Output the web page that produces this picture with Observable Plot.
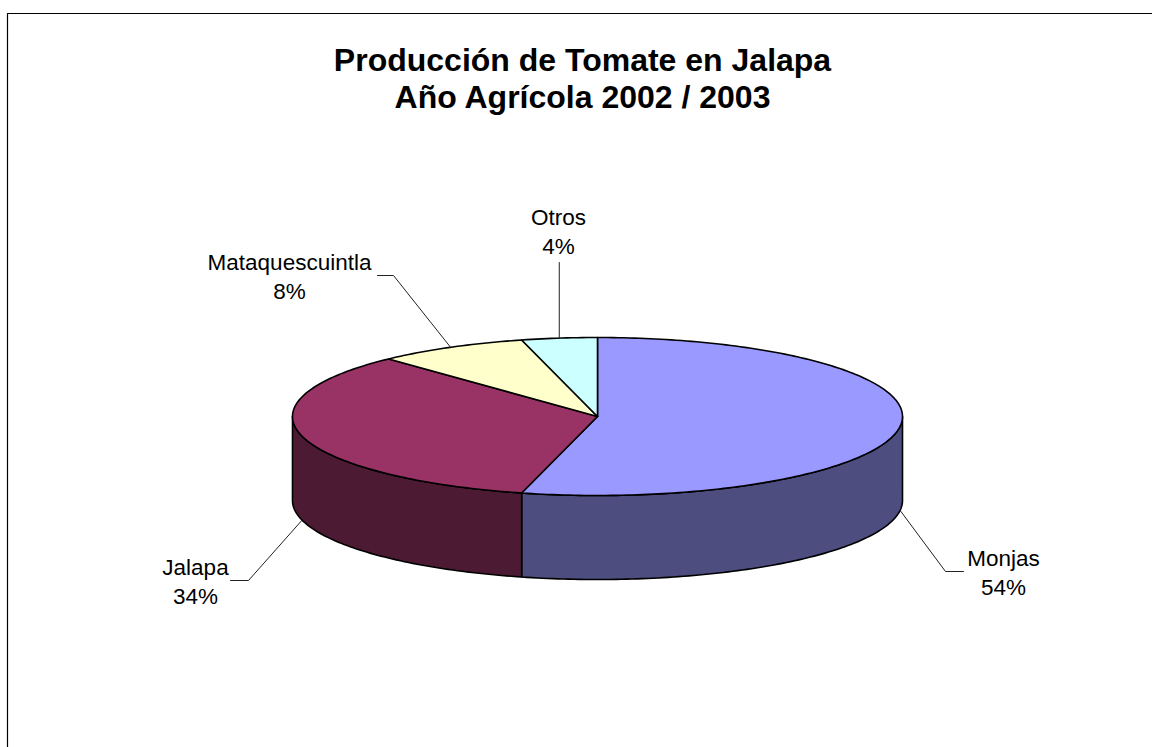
<!DOCTYPE html>
<html>
<head>
<meta charset="utf-8">
<script src="https://cdn.jsdelivr.net/npm/d3@7"></script>
<script src="https://cdn.jsdelivr.net/npm/@observablehq/plot@0.6"></script>
<style>
  html, body { margin: 0; padding: 0; background: #fff; }
  #chart svg { display: block; }
</style>
</head>
<body>
<div id="chart"></div>
<script>
// ---- data ----
const categories = ["Monjas", "Jalapa", "Mataquescuintla", "Otros"];
const values = [54, 34, 8, 4];
const pctLabels = ["54%", "34%", "8%", "4%"];
const titleLines = ["Producción de Tomate en Jalapa", "Año Agrícola 2002 / 2003"];

// ---- styles / layout ----
const topColors = ["#9999FF", "#993366", "#FFFFCC", "#CCFFFF"];
const sideColors = ["#4D4D80", "#4D1A33", "#80805F", "#668080"];
const W = 1152, H = 747;
const pie = {cx: 597, cy: 416, rx: 305, ry: 79, depth: 84};
// label block centres and leader end / elbow (layout only)
const labelLayout = [
  {lx: 1003, ly: 571, elbowX: 945, endX: 963},
  {lx: 195, ly: 580, elbowX: 248, endX: 230},
  {lx: 289, ly: 275, elbowX: 393, endX: 377},
  {lx: 558, ly: 230, elbowX: null, endX: null, endY: 262}
];

const rad = d => d * Math.PI / 180;
function pt(a, dz = 0) {
  return {x: pie.cx + pie.rx * Math.sin(rad(a)), y: pie.cy - pie.ry * Math.cos(rad(a)) + dz};
}
function arc(a0, a1, dz) {
  const pts = [];
  const n = Math.max(2, Math.ceil(Math.abs(a1 - a0) / 1));
  for (let i = 0; i <= n; i++) pts.push(pt(a0 + (a1 - a0) * i / n, dz));
  return pts;
}

const total = d3.sum(values);
let acc = 0;
const slices = categories.map((c, i) => {
  const a0 = acc / total * 360;
  acc += values[i];
  const a1 = acc / total * 360;
  return {c, i, a0, a1, mid: (a0 + a1) / 2};
});

const marks = [];
// outer frame (top / left edges visible)
marks.push(Plot.line([{x: 7, y: H + 10}, {x: 7, y: 13}, {x: W + 10, y: 13}], {x: "x", y: "y", stroke: "#000", strokeWidth: 1.2}));

// side walls (front half only)
for (const s of slices) {
  const lo = Math.max(s.a0, 90), hi = Math.min(s.a1, 270);
  if (hi > lo) {
    const poly = [...arc(lo, hi, 0), ...arc(hi, lo, pie.depth)];
    poly.push(poly[0]);
    marks.push(Plot.line(poly, {x: "x", y: "y", fill: sideColors[s.i], stroke: "#000", strokeWidth: 1.6, strokeLinejoin: "round"}));
  }
}
// top faces
for (const s of slices) {
  const c = {x: pie.cx, y: pie.cy};
  const poly = [c, ...arc(s.a0, s.a1, 0), c];
  marks.push(Plot.line(poly, {x: "x", y: "y", fill: topColors[s.i], stroke: "#000", strokeWidth: 1.6, strokeLinejoin: "round"}));
}
// leader lines + labels
slices.forEach((s, i) => {
  const front = Math.cos(rad(s.mid)) < 0;
  const a = pt(s.mid, front ? pie.depth : 0);
  const L = labelLayout[i];
  let path;
  if (L.elbowX == null) path = [a, {x: a.x, y: L.endY}];
  else path = [a, {x: L.elbowX, y: L.ly}, {x: L.endX, y: L.ly}];
  marks.push(Plot.line(path, {x: "x", y: "y", stroke: "#222", strokeWidth: 1}));
});
marks.push(Plot.text(slices, {
  x: (d) => labelLayout[d.i].lx, y: (d) => labelLayout[d.i].ly,
  text: (d) => categories[d.i] + "\n" + pctLabels[d.i],
  fontSize: 22.5, lineHeight: 1.3, textAnchor: "middle", lineAnchor: "middle",
  fill: "#000", fontFamily: "Liberation Sans, Arial, sans-serif"
}));
// title
marks.push(Plot.text(titleLines, {
  x: () => 582, y: (d, i) => [70, 107][i],
  text: d => d, fontSize: 32, fontWeight: "bold", textAnchor: "middle", lineAnchor: "bottom",
  fill: "#000", fontFamily: "Liberation Sans, Arial, sans-serif"
}));

const chart = Plot.plot({
  width: W, height: H,
  margin: 0,
  x: {domain: [0, W], range: [0, W], axis: null},
  y: {domain: [0, H], range: [0, H], axis: null},
  style: {background: "#fff", overflow: "hidden"},
  marks
});
document.getElementById("chart").appendChild(chart);
</script>
</body>
</html>
